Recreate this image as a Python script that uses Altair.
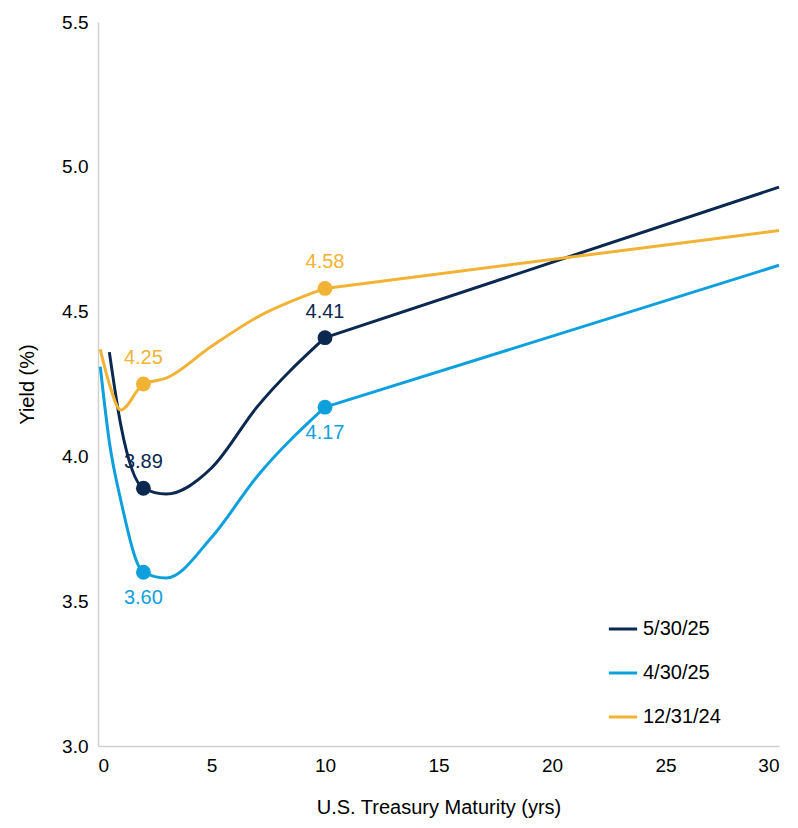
import altair as alt
import pandas as pd

maturities = [0.1, 0.5, 1, 2, 3, 5, 7, 10, 30]
may_2025 = [None, 4.36, 4.11, 3.89, 3.87, 3.96, 4.17, 4.41, 4.93]
apr_2025 = [4.31, 4.05, 3.85, 3.60, 3.58, 3.72, 3.93, 4.17, 4.66]
dec_2024 = [4.37, 4.25, 4.16, 4.25, 4.27, 4.38, 4.48, 4.58, 4.78]
series_names = ["5/30/25", "4/30/25", "12/31/24"]
colors = ["#0b2850", "#0ea0dc", "#f2b234"]

rows = []
for name, vals in zip(series_names, [may_2025, apr_2025, dec_2024]):
    for m, v in zip(maturities, vals):
        if v is not None:
            rows.append({"series": name, "maturity": m, "yield": v})
df = pd.DataFrame(rows)
short_end = df[df["maturity"] <= 10]
long_end = df[df["maturity"] >= 10]

label_rows = [
    {"series": "5/30/25", "maturity": 2, "yield": 3.89, "dy": -26},
    {"series": "5/30/25", "maturity": 10, "yield": 4.41, "dy": -26},
    {"series": "4/30/25", "maturity": 2, "yield": 3.60, "dy": 26},
    {"series": "4/30/25", "maturity": 10, "yield": 4.17, "dy": 26},
    {"series": "12/31/24", "maturity": 2, "yield": 4.25, "dy": -26},
    {"series": "12/31/24", "maturity": 10, "yield": 4.58, "dy": -26},
]
labels = pd.DataFrame(label_rows)
labels["text"] = labels["yield"].map(lambda v: f"{v:.2f}")

x = alt.X("maturity:Q", title="U.S. Treasury  Maturity (yrs)",
          scale=alt.Scale(domain=[0, 30], nice=False),
          axis=alt.Axis(values=[0, 5, 10, 15, 20, 25, 30], grid=False, ticks=False,
                        titlePadding=22))
y = alt.Y("yield:Q", title="Yield (%)",
          scale=alt.Scale(domain=[3.0, 5.5], nice=False, zero=False),
          axis=alt.Axis(values=[3.0, 3.5, 4.0, 4.5, 5.0, 5.5], format=".1f",
                        grid=False, ticks=False, titlePadding=24))
scale = alt.Scale(domain=series_names, range=colors)
color = alt.Color("series:N", scale=scale,
                  legend=alt.Legend(title=None, orient="none", legendX=509, legendY=591,
                                    symbolType="stroke", symbolStrokeWidth=3,
                                    symbolSize=800, labelFontSize=20, rowPadding=18,
                                    labelFont="Liberation Sans", labelColor="#000"))
plain = alt.Color("series:N", scale=scale, legend=None)

curves = alt.Chart(short_end).mark_line(interpolate="monotone", strokeWidth=3).encode(
    x=x, y=y, color=color)
straight = alt.Chart(long_end).mark_line(strokeWidth=3).encode(
    x="maturity:Q", y="yield:Q", color=plain)
dots = alt.Chart(labels).mark_circle(size=220, opacity=1).encode(
    x="maturity:Q", y="yield:Q", color=plain)

texts = []
for dy in (-26, 26):
    texts.append(alt.Chart(labels[labels["dy"] == dy]).mark_text(
        dy=dy, fontSize=20, font="Liberation Sans").encode(
        x="maturity:Q", y="yield:Q", text="text:N", color=plain))

chart = alt.layer(curves, straight, dots, *texts).properties(
    width=681, height=724,
    padding={"left": 9, "top": 5, "right": 5, "bottom": 5},
).configure_view(strokeWidth=0).configure_axis(
    labelFont="Liberation Sans", titleFont="Liberation Sans",
    labelFontSize=19, titleFontSize=20, titleFontWeight="normal",
    labelColor="#000", titleColor="#000", domainColor="#d0d0d0", domainWidth=1.5,
    labelPadding=10,
)

chart.save("out.html", embed_options={"renderer": "svg", "actions": False})
